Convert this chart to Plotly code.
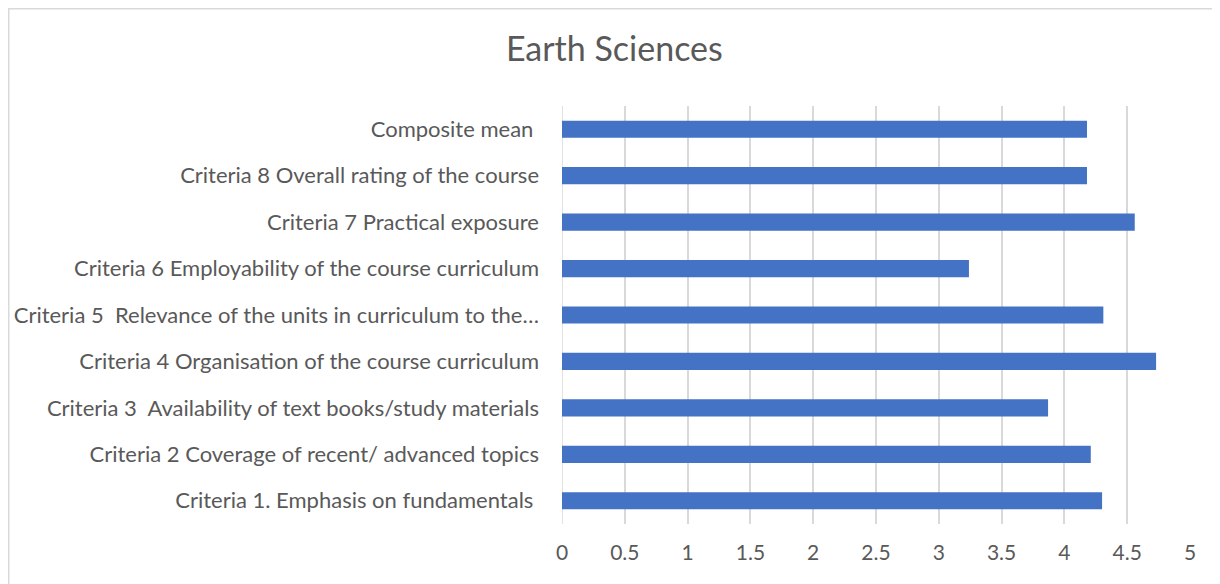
import plotly.graph_objects as go

categories = [
    "Criteria 1. Emphasis on fundamentals ",
    "Criteria 2 Coverage of recent/ advanced topics",
    "Criteria 3  Availability of text books/study materials",
    "Criteria 4 Organisation of the course curriculum",
    "Criteria 5  Relevance of the units in curriculum to the…",
    "Criteria 6 Employability of the course curriculum",
    "Criteria 7 Practical exposure",
    "Criteria 8 Overall rating of the course",
    "Composite mean ",
]
scores = [4.30, 4.21, 3.87, 4.73, 4.31, 3.24, 4.56, 4.18, 4.18]
x_ticks = [0, 0.5, 1, 1.5, 2, 2.5, 3, 3.5, 4, 4.5, 5]

TEXT = "#595959"
GRID = "#d9d9d9"
FONT = "Lato, Open Sans, sans-serif"

fig = go.Figure(
    go.Bar(
        x=scores, y=categories, orientation="h",
        marker_color="#4472C4",
        marker_line_width=0,
        width=0.37,
    )
)

fig.update_layout(
    width=1220, height=584,
    paper_bgcolor="white", plot_bgcolor="white",
    font=dict(family=FONT, color=TEXT, size=22),
    title=dict(
        text="Earth Sciences", x=0.497, xanchor="center",
        y=0.93, yanchor="middle",
        font=dict(size=34, color=TEXT, family=FONT),
    ),
    margin=dict(l=554, r=38, t=98, b=68),
    showlegend=False,
)
fig.update_xaxes(
    range=[0, 5], tickvals=x_ticks, ticktext=[f"{v:g}" for v in x_ticks],
    tickfont=dict(size=21),
    showgrid=True, gridcolor=GRID, gridwidth=1.5,
    zeroline=False, showline=False, automargin=False,
    ticklabelstandoff=14, fixedrange=True,
)
fig.update_yaxes(
    showgrid=False, zeroline=False, showline=False, automargin=False,
    ticklabelstandoff=22, fixedrange=True,
)
# faint frame around the whole chart, like the source image
fig.add_shape(
    type="rect", xref="paper", yref="paper",
    x0=-0.881, x1=1.0414, y0=-0.2, y1=1.2327,
    line=dict(color=GRID, width=1.5), layer="below",
)
fig.add_shape(
    type="line", xref="x", yref="paper",
    x0=0, x1=0, y0=0, y1=1,
    line=dict(color=GRID, width=1.5), layer="below",
)

fig.write_html("out.html")
